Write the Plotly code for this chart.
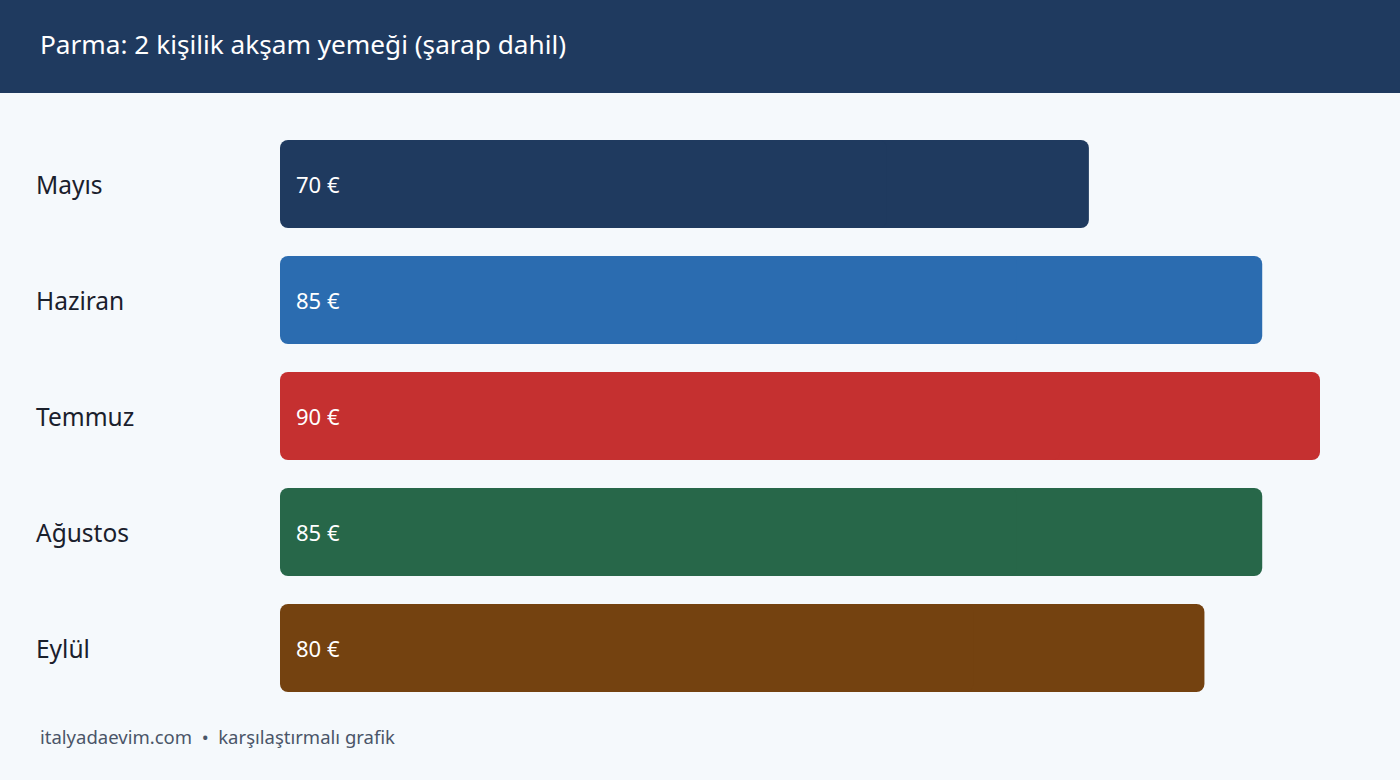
import plotly.graph_objects as go

months = ["Mayıs", "Haziran", "Temmuz", "Ağustos", "Eylül"]
prices = [70, 85, 90, 85, 80]
value_labels = ["70 €", "85 €", "90 €", "85 €", "80 €"]
colors = ["#1f3a5f", "#2b6cb0", "#c53030", "#276749", "#744210"]

title_text = "Parma: 2 kişilik akşam yemeği (şarap dahil)"
footer_text = "italyadaevim.com  •  karşılaştırmalı grafik"

W, H = 1400, 780
L, R, T, B = 280, 80, 126, 74
PW, PH = W - L - R, H - T - B
FONT = "Noto Sans"

fig = go.Figure()
# right half (rounded at the value end)
fig.add_trace(go.Bar(
    y=months, x=[p / 2 for p in prices], base=[p / 2 for p in prices],
    orientation="h", marker=dict(color=colors, line=dict(width=0)),
    hoverinfo="skip", showlegend=False,
))
# left half (rounded at the zero end)
fig.add_trace(go.Bar(
    y=months, x=[-p * 0.75 for p in prices], base=[p * 0.75 for p in prices],
    orientation="h", marker=dict(color=colors, line=dict(width=0)),
    customdata=prices, hovertemplate="%{y}: %{customdata} €<extra></extra>",
    showlegend=False,
))

annotations = []
for m, lab in zip(months, value_labels):
    annotations.append(dict(x=0, y=m, xref="x", yref="y", text=lab, showarrow=False,
                            xanchor="left", xshift=14, font=dict(family=FONT, size=22, color="#ffffff")))
    annotations.append(dict(x=-(L - 34) / PW, y=m, xref="paper", yref="y", text=m, showarrow=False,
                            xanchor="left", font=dict(family=FONT, size=24.5, color="#1a202c")))

annotations.append(dict(x=-(L - 38) / PW, y=1 + (T - 44) / PH, xref="paper", yref="paper",
                        text=title_text, showarrow=False, xanchor="left", yanchor="middle",
                        font=dict(family=FONT, size=26.2, color="#ffffff")))
annotations.append(dict(x=-(L - 38) / PW, y=-(736 - (H - B)) / PH, xref="paper", yref="paper",
                        text=footer_text, showarrow=False, xanchor="left", yanchor="middle",
                        font=dict(family=FONT, size=18.5, color="#4a5568")))

shapes = [dict(type="rect", xref="paper", yref="paper",
               x0=-L / PW - 0.01, x1=1 + R / PW + 0.01,
               y0=1 + (T - 93) / PH, y1=1 + T / PH + 0.01,
               fillcolor="#1f3a5f", line=dict(width=0), layer="below")]

fig.update_layout(
    width=W, height=H,
    margin=dict(l=L, r=R, t=T, b=B),
    paper_bgcolor="#f5f9fc", plot_bgcolor="#f5f9fc",
    barmode="overlay", bargap=0.2414, barcornerradius=8,
    xaxis=dict(range=[0, 90], visible=False, fixedrange=True),
    yaxis=dict(categoryorder="array", categoryarray=months[::-1], showticklabels=False,
               showgrid=False, zeroline=False, fixedrange=True),
    annotations=annotations, shapes=shapes,
    font=dict(family=FONT),
)

fig.write_html("out.html", config={"displayModeBar": False},
               post_script="document.body.style.margin='0';document.body.style.background='#f5f9fc';")
